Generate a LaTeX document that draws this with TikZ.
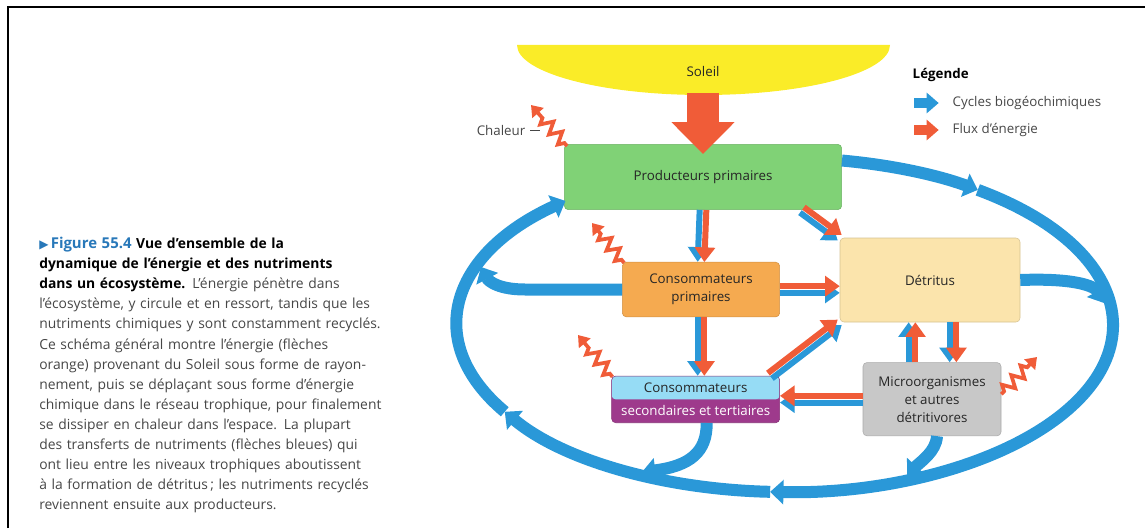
\documentclass[tikz,border=0pt]{standalone}
\usepackage{fontspec}
\setmainfont{Open Sans}
\newfontfamily\symfont{DejaVu Sans}
\usetikzlibrary{arrows.meta,positioning,calc,decorations.pathmorphing}
\definecolor{sunyel} {RGB}{250,236,40}
\definecolor{prodgrn}{RGB}{128,210,118}
\definecolor{consorg}{RGB}{245,170,80}
\definecolor{detyel} {RGB}{251,228,172}
\definecolor{secyan} {RGB}{150,220,245}
\definecolor{terpur} {RGB}{158,58,140}
\definecolor{microgr}{RGB}{200,200,200}
\definecolor{nutblu} {RGB}{42,152,216}
\definecolor{enerorg}{RGB}{240,92,56}
\definecolor{capgry} {RGB}{70,70,70}
\definecolor{figblu} {RGB}{40,120,185}
\tikzset{
  box/.style    ={draw=#1!85!black, fill=#1, rounded corners=3pt, align=center,
                  inner sep=0pt, text=black!85,
                  font=\fontsize{10}{13.5}\selectfont},
  cycarr/.style ={-{Triangle[length=10pt,width=18pt]}, line width=9pt, draw=nutblu},
  nutarr/.style ={-{Triangle[length=11pt,width=15pt]}, line width=4.5pt, draw=nutblu},
  enarr/.style  ={-{Triangle[length=11pt,width=15pt]}, line width=4.5pt, draw=enerorg},
  heatarr/.style={-{Triangle[length=8pt,width=11pt]}, line width=2.8pt, draw=enerorg,
                  decorate, decoration={zigzag, segment length=10pt, amplitude=4.5pt,
                  pre length=3pt, post length=9pt}},
  legarr/.style ={-{Triangle[length=9pt,width=15pt]}, line width=7.5pt, draw=#1},
  lbl/.style    ={font=\fontsize{10}{13}\selectfont, text=capgry},
}
% blue + orange pair, #3 = side of the blue one (-90 or 90)
\newcommand{\duoarr}[3]{%
  \ifnum#3<0 \def\othang{90}\else\def\othang{-90}\fi
  \draw[nutarr] ($(#1)!2.5pt!#3:(#2)$) -- ($(#2)!2.5pt!-#3:(#1)$);
  \draw[enarr]  ($(#1)!2.5pt!\othang:(#2)$) -- ($(#2)!2.5pt!-\othang:(#1)$);
}

\begin{document}
\begin{tikzpicture}[x=0.75pt, y=-0.75pt,
  cssplit/.style={path picture={\fill[secyan] (path picture bounding box.north west)
                  rectangle (path picture bounding box.east);}},
  bigarr/.style={-{Triangle[length=24pt,width=46pt]}, line width=24pt, draw=enerorg}
]
\useasboundingbox (0,0) rectangle (1145,528);

%% frame
\draw[line width=1.5pt] (8,528) -- (8,7) -- (1145,7);

%% caption
\node[anchor=north west, inner sep=0pt, text width=300pt, align=left, text=capgry,
      font=\fontsize{10.4}{15.06}\selectfont] (caption) at (39,237)
  {{\color{figblu}{\symfont\small ▶}\,{\fontsize{11.2}{15}\selectfont\bfseries Figure 55.4}}
   {\bfseries\color{black} Vue d’ensemble de la\\
   dynamique de l’énergie et des nutriments\\
   dans un écosystème.} L’énergie pénètre dans\\
   l’écosystème, y circule et en ressort, tandis que les\\
   nutriments chimiques y sont constamment recyclés.\\
   Ce schéma général montre l’énergie (flèches\\
   orange) provenant du Soleil sous forme de rayon-\\
   nement, puis se déplaçant sous forme d’énergie\\
   chimique dans le réseau trophique, pour finalement\\
   se dissiper en chaleur dans l’espace. La plupart\\
   des transferts de nutriments (flèches bleues) qui\\
   ont lieu entre les niveaux trophiques aboutissent\\
   à la formation de détritus\,; les nutriments recyclés\\
   reviennent ensuite aux producteurs.};

%% Sun
\fill[sunyel] (517,45) arc[start angle=180, end angle=0, x radius=186.5, y radius=50] -- cycle;
\node[lbl, text=black!85] (soleil) at (703,72) {Soleil};
\coordinate (sunbase) at (703,93);

%% boxes
\node[box=prodgrn, minimum width=208pt, minimum height=49pt] (prod) at (703,177)
  {Producteurs primaires};
\node[box=consorg, minimum width=118pt, minimum height=41pt, below=39pt of prod, xshift=-1.5pt] (cp)
  {Consommateurs\\primaires};
\node[box=terpur, cssplit, minimum width=126pt, minimum height=35pt,
      font=\fontsize{10}{17}\selectfont, below=44pt of cp, xshift=-4pt] (cs)
  {Consommateurs\\\textcolor{white}{secondaires et tertiaires}};
\node[box=detyel, minimum width=135pt, minimum height=63pt] (det) at (930,280) {Détritus};
\node[box=microgr, minimum width=103.5pt, minimum height=55pt, below=30pt of det, xshift=1.5pt] (micro)
  {Microorganismes\\et autres\\détritivores};

%% energy from the sun
\draw[bigarr, shorten >=-7.5pt] (sunbase) -- (prod.north);

%% big nutrient loop
\coordinate (loopc) at (785,325);
\draw[cycarr] (loopc) ++(-80:328 and 167)  arc[start angle=-80,  end angle=-54,  x radius=328, y radius=167];
\draw[cycarr] (loopc) ++(-54:328 and 167)  arc[start angle=-54,  end angle=92.6, x radius=328, y radius=167];
\draw[cycarr] (loopc) ++(92.6:328 and 167) arc[start angle=92.6, end angle=148.7,x radius=328, y radius=167];
\draw[cycarr] (loopc) ++(148.7:328 and 167)arc[start angle=148.7,end angle=228,  x radius=328, y radius=167];

%% nutrients back to the loop
\coordinate (cpin)   at (481,267);
\coordinate (csout)  at ($(cs.south)+(11,0)$);
\coordinate (csin)   at (642,472);
\coordinate (miout)  at ($(micro.south)+(5,0)$);
\coordinate (miin)   at (907,476);
\coordinate (detin)  at (1104,303);
\draw[cycarr] (cp.west) -- (525,289.5) .. controls (500,289.5) and (489,282) .. (cpin);
\draw[cycarr] (csout) .. controls (707,452) and (690,466) .. (csin);
\draw[cycarr] (miout) .. controls (936,452) and (920,462) .. (miin);
\draw[cycarr] (det.east) .. controls (1075,278) and (1095,286) .. (detin);

%% paired transfers
\coordinate (p2d) at ($(prod.south east)+(-40,0)$);
\coordinate (c2d) at ($(cs.north east)+(-10,0)$);
\coordinate (mup) at ($(micro.north)+(-20,0)$);
\coordinate (mdn) at ($(micro.north)+(21,0)$);
\duoarr{prod.south}{cp.north}{-90}
\duoarr{p2d}{det.north west}{-90}
\duoarr{cp.east}{cp.east -| det.west}{-90}
\duoarr{cp.south}{cp.south |- cs.north}{-90}
\duoarr{c2d}{det.south west}{-90}
\duoarr{micro.west}{micro.west -| cs.east}{90}
\duoarr{mup}{mup |- det.south}{90}
\duoarr{mdn |- det.south}{mdn}{-90}

%% heat
\node[lbl, anchor=east] (chaleur) at (530,130) {Chaleur};
\draw[capgry, line width=0.6pt] (chaleur.east) -- ++(10,0);
\coordinate (h1) at (531,105);
\coordinate (h2) at (592,223);
\coordinate (h3) at (578,335);
\coordinate (h4) at (1037,357);
\draw[heatarr] ($(prod.north west)+(3,2)$)  -- (h1);
\draw[heatarr] ($(cp.north west)+(2,1)$)    -- (h2);
\draw[heatarr] ($(cs.north west)+(1,1)$)    -- (h3);
\draw[heatarr] ($(micro.east)+(0,-5)$)      -- (h4);

%% legend
\node[font=\fontsize{10}{13}\selectfont\bfseries, anchor=west] (leg) at (908,75) {Légende};
\node[lbl, anchor=west] (legcyc) at (948,103) {Cycles biogéochimiques};
\node[lbl, anchor=west] (legflux) at (948,130) {Flux d’énergie};
\draw[legarr=nutblu,  shorten >=7pt] ($(legcyc.west)+(-34,0)$)  -- (legcyc.west);
\draw[legarr=enerorg, shorten >=7pt] ($(legflux.west)+(-34,0)$) -- (legflux.west);

\end{tikzpicture}
\end{document}
